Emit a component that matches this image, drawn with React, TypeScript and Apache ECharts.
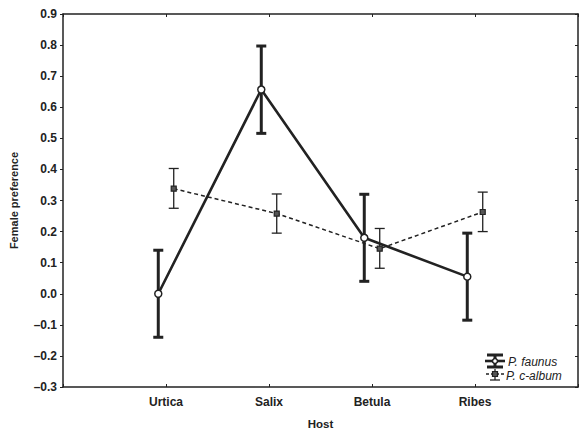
import React, { useEffect, useRef } from "react";
import * as echarts from "echarts";

const hosts = ["Urtica", "Salix", "Betula", "Ribes"];
const faunusMean = [0.0, 0.657, 0.18, 0.055];
const faunusLow = [-0.14, 0.516, 0.04, -0.085];
const faunusHigh = [0.14, 0.797, 0.32, 0.195];
const calbumMean = [0.338, 0.258, 0.145, 0.263];
const calbumLow = [0.275, 0.195, 0.082, 0.2];
const calbumHigh = [0.403, 0.321, 0.21, 0.327];
const offset = 0.075;

const INK = "#222";
const FONT = "Liberation Sans, Arial, sans-serif";

function errRender(capHalf: number, width: number) {
  return (params: any, api: any) => {
    const x = api.value(0);
    const p1 = api.coord([x, api.value(1)]);
    const p2 = api.coord([x, api.value(2)]);
    const style = { stroke: INK, lineWidth: width, fill: "none" };
    return {
      type: "group",
      children: [
        { type: "line", shape: { x1: p1[0], y1: p1[1], x2: p2[0], y2: p2[1] }, style },
        { type: "line", shape: { x1: p1[0] - capHalf, y1: p1[1], x2: p1[0] + capHalf, y2: p1[1] }, style },
        { type: "line", shape: { x1: p2[0] - capHalf, y1: p2[1], x2: p2[0] + capHalf, y2: p2[1] }, style },
      ],
    };
  };
}

export default function App() {
  const ref = useRef<HTMLDivElement>(null);
  useEffect(() => {
    const chart = echarts.init(ref.current!, null, { renderer: "svg" });
    const fx = hosts.map((_, i) => i + 1 - offset);
    const cx = hosts.map((_, i) => i + 1 + offset);
    const fmtY = (v: number) => {
      const r = Math.round(v * 10) / 10;
      return r < 0 ? "\u2013" + Math.abs(r).toFixed(1) : r.toFixed(1);
    };
    const axisLine = { show: true, onZero: false, lineStyle: { color: INK, width: 1.5 } };
    const tickIn = { show: true, inside: true, length: 3, lineStyle: { color: INK } };
    chart.setOption({
      animation: false,
      backgroundColor: "#fff",
      grid: { left: 59, right: 2, top: 14, bottom: 43, containLabel: false },
      xAxis: [
        {
          type: "value",
          min: 0,
          max: 5,
          interval: 1,
          name: "Host",
          nameLocation: "middle",
          nameGap: 31,
          nameTextStyle: { fontFamily: FONT, fontWeight: "bold", fontSize: 11.5, color: INK },
          axisLine,
          axisTick: tickIn,
          splitLine: { show: false },
          axisLabel: {
            margin: 9,
            fontFamily: FONT,
            fontWeight: "bold",
            fontSize: 12,
            color: INK,
            formatter: (v: number) => (v >= 1 && v <= 4 ? hosts[v - 1] : ""),
          },
        },
        {
          type: "value",
          position: "top",
          min: 0,
          max: 5,
          interval: 1,
          axisLine,
          axisTick: tickIn,
          axisLabel: { show: false },
          splitLine: { show: false },
        },
      ],
      yAxis: [
        {
          type: "value",
          min: -0.3,
          max: 0.9,
          interval: 0.1,
          name: "Female preference",
          nameLocation: "middle",
          nameGap: 44,
          nameTextStyle: { fontFamily: FONT, fontWeight: "bold", fontSize: 11, color: INK },
          axisLine,
          axisTick: { show: true, inside: false, length: 3, lineStyle: { color: INK } },
          splitLine: { show: false },
          axisLabel: {
            margin: 6,
            fontFamily: FONT,
            fontWeight: "bold",
            fontSize: 12,
            color: INK,
            formatter: fmtY,
          },
        },
        {
          type: "value",
          position: "right",
          min: -0.3,
          max: 0.9,
          interval: 0.1,
          axisLine,
          axisTick: tickIn,
          axisLabel: { show: false },
          splitLine: { show: false },
        },
      ],
      series: [
        {
          type: "custom",
          renderItem: errRender(5, 3),
          data: fx.map((x, i) => [x, faunusLow[i], faunusHigh[i]]),
          z: 3,
        },
        {
          type: "custom",
          renderItem: errRender(5, 1.3),
          data: cx.map((x, i) => [x, calbumLow[i], calbumHigh[i]]),
          z: 3,
        },
        {
          type: "line",
          data: cx.map((x, i) => [x, calbumMean[i]]),
          lineStyle: { color: INK, width: 1.5, type: [4, 3] },
          symbol: "rect",
          symbolSize: 5,
          itemStyle: { color: "#555", borderColor: INK, borderWidth: 1.2 },
          z: 4,
        },
        {
          type: "line",
          data: fx.map((x, i) => [x, faunusMean[i]]),
          lineStyle: { color: INK, width: 2.6 },
          symbol: "circle",
          symbolSize: 7,
          showSymbol: true,
          itemStyle: { color: "#fff", borderColor: INK, borderWidth: 1.5 },
          z: 5,
        },
      ],
      graphic: [
        { type: "line", shape: { x1: 487, y1: 355, x2: 503, y2: 355 }, style: { stroke: INK, lineWidth: 3 } },
        { type: "line", shape: { x1: 487, y1: 367, x2: 503, y2: 367 }, style: { stroke: INK, lineWidth: 3 } },
        { type: "line", shape: { x1: 495, y1: 355, x2: 495, y2: 367 }, style: { stroke: INK, lineWidth: 3 } },
        { type: "line", shape: { x1: 485, y1: 361, x2: 505, y2: 361 }, style: { stroke: INK, lineWidth: 2.6 } },
        { type: "circle", shape: { cx: 495, cy: 361, r: 2.5 }, style: { fill: "#fff", stroke: INK, lineWidth: 1.5 } },
        {
          type: "text",
          x: 508,
          y: 362,
          style: { text: "P. faunus", font: "italic 12px " + FONT, fill: INK, verticalAlign: "middle" },
        },
        { type: "line", shape: { x1: 486, y1: 374, x2: 505, y2: 374 }, style: { stroke: INK, lineWidth: 1.5, lineDash: [3, 2] } },
        { type: "line", shape: { x1: 495, y1: 369, x2: 495, y2: 380 }, style: { stroke: INK, lineWidth: 1.3 } },
        { type: "line", shape: { x1: 490, y1: 380, x2: 500, y2: 380 }, style: { stroke: INK, lineWidth: 1.3 } },
        { type: "rect", shape: { x: 492.5, y: 371.5, width: 5, height: 5 }, style: { fill: "#555", stroke: INK, lineWidth: 1.2 } },
        {
          type: "text",
          x: 506,
          y: 376,
          style: { text: "P. c-album", font: "italic 12px " + FONT, fill: INK, verticalAlign: "middle" },
        },
      ],
    });
    return () => chart.dispose();
  }, []);
  return (
    <div
      ref={ref}
      style={{ position: "fixed", left: 0, top: 0, width: 581, height: 435, background: "#fff" }}
    />
  );
}
